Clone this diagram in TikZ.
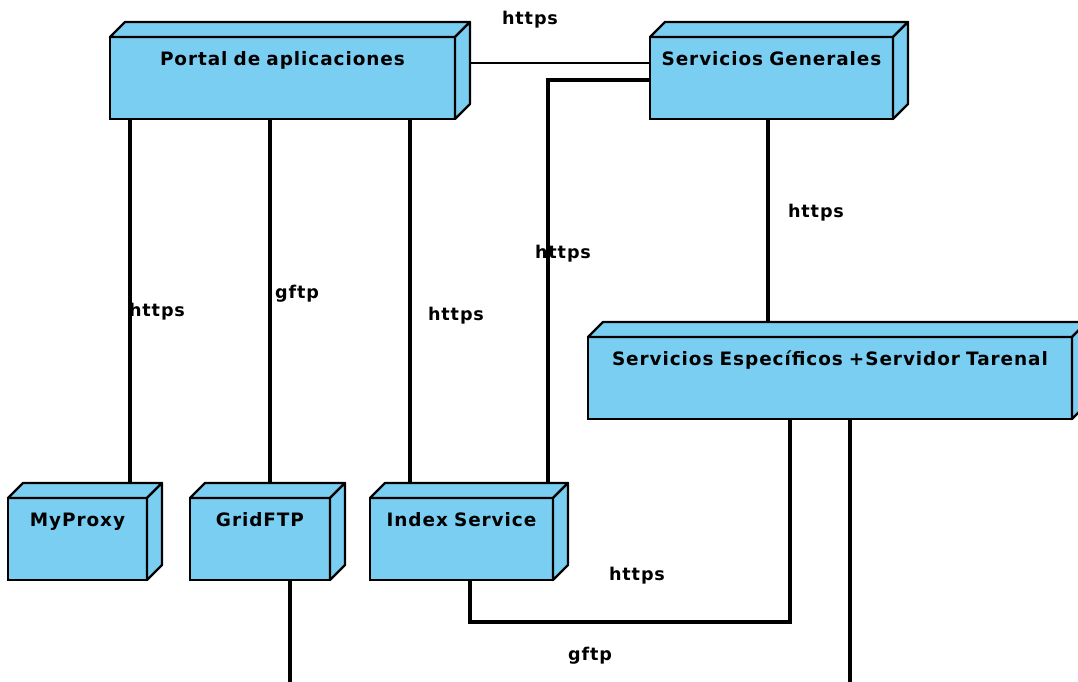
\documentclass[tikz,border=0pt]{standalone}
\usepackage{fontspec}
\setmainfont{DejaVu Sans}
\newfontfamily\fuentenodo[LetterSpace=5]{DejaVu Sans}
\usepackage{tikz}
\usetikzlibrary{calc}

\definecolor{azulnodo}{RGB}{122,206,242}

\begin{document}
\begin{tikzpicture}[x=0.02cm,y=-0.02cm,
    nodo/.style={draw, fill=azulnodo, line width=1.3pt, inner sep=0pt, outer sep=0pt,
      anchor=north west, align=center, text height=0.56cm, text depth=1.08cm,
      font=\fuentenodo\fontsize{10.5}{12}\selectfont\bfseries},
    caja3d/.style={draw, fill=azulnodo, line width=1.3pt, line join=round},
    enlace/.style={line width=2pt},
    etiq/.style={font=\fuentenodo\fontsize{10}{12}\selectfont\bfseries, inner sep=1pt}]

		\useasboundingbox (0,0) rectangle (1078,681);
		\clip (0,0) rectangle (1078,681);

		% nodos
		\node [nodo, text width=6.9cm] (portal) at (110,37) {Portal de aplicaciones};
		\node [nodo, text width=4.86cm] (gen) at (650,37) {Servicios Generales};
		\node [nodo, text width=9.68cm] (espec) at (588,337) {Servicios Específicos +Servidor Tarenal};
		\node [nodo, text width=2.78cm] (myproxy) at (8,498) {MyProxy};
		\node [nodo, text width=2.8cm] (grid) at (190,498) {GridFTP};
		\node [nodo, text width=3.66cm] (index) at (370,498) {Index Service};

		\foreach \n in {portal,gen,espec,myproxy,grid,index}{
			\filldraw [caja3d] (\n.north west) -- ++(15,-15) -- ($(\n.north east)+(15,-15)$) -- (\n.north east) -- cycle; %tapa
			\filldraw [caja3d] (\n.north east) -- ++(15,-15) -- ($(\n.south east)+(15,-15)$) -- (\n.south east) -- cycle; %lado
		}

		% enlaces
		\draw [line width=1.4pt] ($(portal.north east)+(15,26)$) -- ($(gen.north west)+(0,26)$);
		\draw [enlace] ($(gen.north west)+(0,43)$) -| ($(index.north east)+(-5,-15)$);

		\draw [enlace] (myproxy.north east) ++(-17,-15) coordinate (p1) -- (p1 |- portal.south);
		\draw [enlace] (grid.north west) ++(80,-15) coordinate (p2) -- (p2 |- portal.south);
		\draw [enlace] (index.north west) ++(40,-15) coordinate (p3) -- (p3 |- portal.south);

		\draw [enlace] (gen.south west) ++(118,0) coordinate (p4) -- ($(p4 |- espec.north)+(0,-15)$);
		\draw [enlace] (index.south west) ++(100,0) -- ++(0,42) -| ($(espec.south west)+(202,0)$);
		\draw [enlace] (grid.south west) ++(100,0) -- ++(0,125) -| ($(espec.south west)+(262,0)$);

		% etiquetas
		\node [etiq] (e1) at (530,20) {https};
		\node [etiq] (e2) at (563,254) {https};
		\node [etiq] (e3) at (157,312) {https};
		\node [etiq] (e4) at (297,294) {gftp};
		\node [etiq] (e5) at (456,316) {https};
		\node [etiq] (e6) at (816,213) {https};
		\node [etiq] (e7) at (637,576) {https};
		\node [etiq] (e8) at (590,656) {gftp};
\end{tikzpicture}
\end{document}
